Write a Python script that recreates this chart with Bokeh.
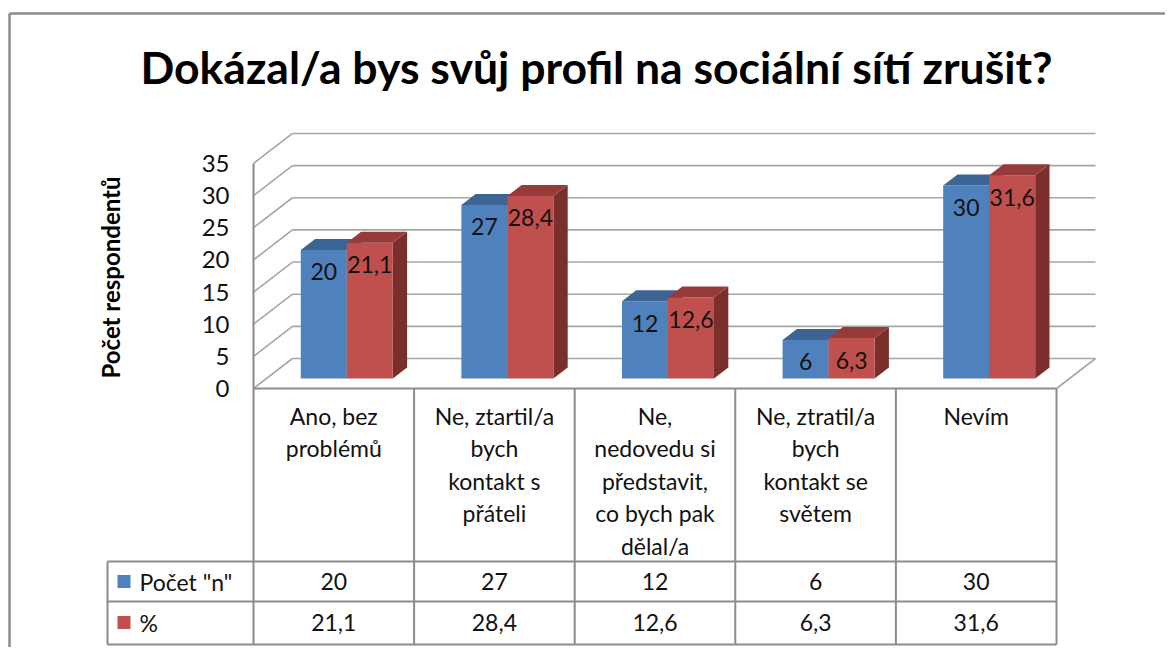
import numpy as np
from bokeh.plotting import figure
from bokeh.models import Range1d
from bokeh.core.properties import value
from bokeh.embed import file_html
from bokeh.resources import INLINE

# ---------------- data ----------------
title_text = "Dokázal/a bys svůj profil na sociální sítí zrušit?"
y_title = "Počet respondentů"
categories = [
    "Ano, bez problémů",
    "Ne, ztartil/a bych kontakt s přáteli",
    "Ne, nedovedu si představit, co bych pak dělal/a",
    "Ne, ztratil/a bych kontakt se světem",
    "Nevím",
]
category_lines = [
    ["Ano, bez", "problémů"],
    ["Ne, ztartil/a", "bych", "kontakt s", "přáteli"],
    ["Ne,", "nedovedu si", "představit,", "co bych pak", "dělal/a"],
    ["Ne, ztratil/a", "bych", "kontakt se", "světem"],
    ["Nevím"],
]
series_names = ['Počet "n"', "%"]
count_values = [20, 27, 12, 6, 30]
percent_values = [21.1, 28.4, 12.6, 6.3, 31.6]
y_ticks = [0, 5, 10, 15, 20, 25, 30, 35]

def fmt(v):
    return f"{v:g}".replace(".", ",")

# ---------------- layout (pixel based) ----------------
W, H = 1165, 647
PX_X = 160.6          # pixels per category
PX_Y = 6.43           # pixels per value unit
X0, Y0 = 253, 388     # screen position of the front-left floor corner
OFF = 0               # figure offset on screen

def px2x(px):
    return (px - X0) / PX_X

def py2y(py):
    return (Y0 - py) / PX_Y

DX = 39 / PX_X        # full depth shift (x)
DY = 30 / PX_Y        # full depth shift (y)
D_FRONT = 0.333
D_BACK = 0.70
BAR_W = 46 / PX_X
N = len(categories)

BLUE, BLUE_TOP, BLUE_SIDE = "#4F81BD", "#3C6594", "#2F5079"
RED, RED_TOP, RED_SIDE = "#C0504D", "#963B39", "#7B2F2D"
GRID = "#A6A6A6"
TABLE = "#8C8C8C"
FONT = value("Lato")
TXT = "#111111"

p = figure(
    width=W, height=H,
    x_range=Range1d(px2x(OFF), px2x(OFF + W)),
    y_range=Range1d(py2y(OFF + H), py2y(OFF)),
    x_axis_type=None, y_axis_type=None,
    output_backend="svg", toolbar_location=None,
    min_border=0, outline_line_color=None,
)
p.grid.visible = False

# outer chart border
p.segment(x0=[px2x(9), px2x(9)], y0=[py2y(13), py2y(13)],
          x1=[px2x(1200), px2x(9)], y1=[py2y(13), py2y(700)],
          line_color="#8C8C8C", line_width=2.5)

# walls / gridlines
gx0, gy0, gx1, gy1 = [], [], [], []
for v in y_ticks:
    gx0 += [DX, 0]
    gy0 += [v + DY, v]
    gx1 += [N + DX, DX]
    gy1 += [v + DY, v + DY]
gx0.append(N); gy0.append(0); gx1.append(N + DX); gy1.append(DY)
p.segment(x0=gx0, y0=gy0, x1=gx1, y1=gy1, line_color=GRID, line_width=1.6)

# table geometry
row1_top = py2y(561)
row2_top = py2y(601)
tbl_bottom = py2y(644)
leg_left = px2x(107)

tx0, ty0, tx1, ty1 = [], [], [], []
tx0.append(0); ty0.append(y_ticks[-1]); tx1.append(0); ty1.append(0)
for i in range(N + 1):
    tx0.append(i); ty0.append(0); tx1.append(i); ty1.append(tbl_bottom)
tx0.append(0); ty0.append(0); tx1.append(N); ty1.append(0)
for yy in (row1_top, row2_top, tbl_bottom):
    tx0.append(leg_left); ty0.append(yy); tx1.append(N); ty1.append(yy)
tx0.append(leg_left); ty0.append(row1_top); tx1.append(leg_left); ty1.append(tbl_bottom)
p.segment(x0=tx0, y0=ty0, x1=tx1, y1=ty1, line_color=TABLE, line_width=2)

# bars (pseudo 3D)
fdx, fdy = D_FRONT * DX, D_FRONT * DY
bdx, bdy = (D_BACK - D_FRONT) * DX, (D_BACK - D_FRONT) * DY

xs, ys, cols = [], [], []
lab_x, lab_y, lab_t = [], [], []
for i in range(N):
    cx = i + 0.5 + fdx
    for s, (vals, front, top, side) in enumerate([
        (count_values, BLUE, BLUE_TOP, BLUE_SIDE),
        (percent_values, RED, RED_TOP, RED_SIDE),
    ]):
        v = vals[i]
        xl = cx - BAR_W + s * BAR_W
        xr = xl + BAR_W
        yb = fdy
        yt = fdy + v
        xs.append([xr, xr + bdx, xr + bdx, xr]); ys.append([yb, yb + bdy, yt + bdy, yt]); cols.append(side)
        xs.append([xl, xr, xr, xl]); ys.append([yb, yb, yt, yt]); cols.append(front)
        xs.append([xl, xr, xr + bdx, xl + bdx]); ys.append([yt, yt, yt + bdy, yt + bdy]); cols.append(top)
        lab_x.append((xl + xr) / 2); lab_y.append(yt - 22 / PX_Y); lab_t.append(fmt(v))

p.patches(xs=xs, ys=ys, fill_color=cols, line_color=None)
p.text(x=lab_x, y=lab_y, text=lab_t, text_align="center", text_baseline="middle",
       text_font=FONT, text_font_size="23px", text_color=TXT)

# y tick labels
p.text(x=[px2x(229)] * len(y_ticks), y=y_ticks, text=[str(t) for t in y_ticks],
       text_align="right", text_baseline="middle", text_font=FONT,
       text_font_size="24px", text_color=TXT)

# y axis title
p.text(x=[px2x(110)], y=[py2y(277)], text=[y_title], angle=np.pi / 2,
       text_align="center", text_baseline="middle", text_font=FONT,
       text_font_size="24px", text_font_style="bold", text_color="#000000")

# title
p.text(x=[px2x(596)], y=[py2y(66)], text=[title_text], text_align="center",
       text_baseline="middle", text_font=FONT, text_font_size="44.5px",
       text_font_style="bold", text_color="#000000")

# category labels in table header
cl_x, cl_y, cl_t = [], [], []
for i, lines in enumerate(category_lines):
    for k, line in enumerate(lines):
        cl_x.append(i + 0.5)
        cl_y.append(py2y(415 + 32.5 * k))
        cl_t.append(line)
p.text(x=cl_x, y=cl_y, text=cl_t, text_align="center", text_baseline="middle",
       text_font=FONT, text_font_size="23px", text_color=TXT)

# table value rows
row_y = [py2y(581), py2y(622)]
vx, vy, vt = [], [], []
for r, vals in enumerate([count_values, percent_values]):
    for i, v in enumerate(vals):
        vx.append(i + 0.5); vy.append(row_y[r]); vt.append(fmt(v))
p.text(x=vx, y=vy, text=vt, text_align="center", text_baseline="middle",
       text_font=FONT, text_font_size="23px", text_color=TXT)

# legend keys in table
p.scatter(x=[px2x(123.5)] * 2, y=row_y, marker="square", size=13,
          fill_color=[BLUE, RED], line_color=None)
p.text(x=[px2x(139)] * 2, y=row_y, text=series_names, text_align="left",
       text_baseline="middle", text_font=FONT, text_font_size="23px",
       text_color=TXT)

open("out.html", "w").write(file_html(p, INLINE))
